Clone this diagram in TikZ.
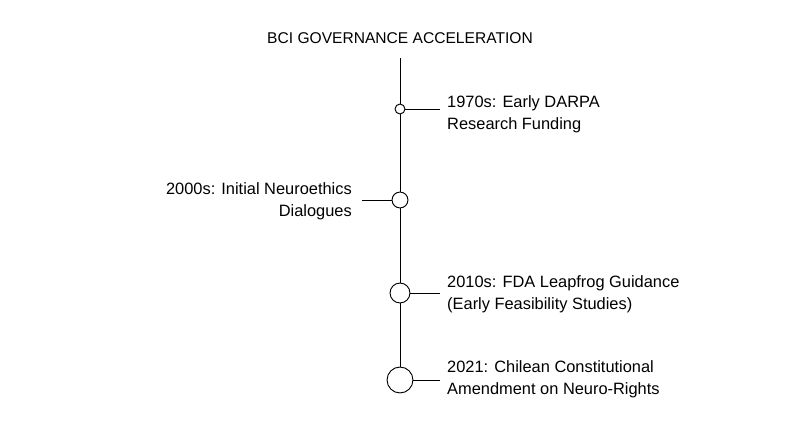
\documentclass[tikz,border=0pt]{standalone}
\usepackage{fontspec}
\setmainfont{Liberation Sans}
\usetikzlibrary{positioning}
\begin{document}
\begin{tikzpicture}[x=0.03cm,y=-0.03cm,
    event/.style={circle,draw,thick,fill=white,inner sep=0pt},
    label/.style={align=left,font=\fontsize{14}{19}\selectfont,inner sep=0pt}]
        \useasboundingbox (0,0) rectangle (800,447);
        % title
        \node[font=\fontsize{13.3}{16}\selectfont] (title) at (400,38) {BCI GOVERNANCE ACCELERATION};
        % timeline points
        \coordinate (start) at (400,58);
        \node[event,minimum size=10pt*0.85] (darpa)   at (400,109) {};
        \node[event,minimum size=16pt*0.85] (ethics)  at (400,200) {};
        \node[event,minimum size=20pt*0.85] (fda)     at (400,293) {};
        \node[event,minimum size=26pt*0.85] (chile)   at (400,380) {};
        % spine
        \draw[thick] (start) -- (darpa);
        \draw[thick] (darpa) -- (ethics);
        \draw[thick] (ethics) -- (fda);
        \draw[thick] (fda) -- (chile);
        % labels
        \node[label,anchor=west] (darpatext)  at (447,114) {1970s: Early DARPA\\Research Funding};
        \node[label,anchor=east,align=right] (ethicstext) at (352,201) {2000s: Initial Neuroethics\\Dialogues};
        \node[label,anchor=west] (fdatext)    at (447,294) {2010s: FDA Leapfrog Guidance\\(Early Feasibility Studies)};
        \node[label,anchor=west] (chiletext)  at (447,379) {2021: Chilean Constitutional\\Amendment on Neuro-Rights};
        % ticks
        \draw (darpa.east) -- ([xshift=-7*0.03cm]darpatext.west |- darpa);
        \draw (ethics.west) -- ([xshift=-30*0.03cm]ethics.west);
        \draw (fda.east) -- ([xshift=-7*0.03cm]fdatext.west |- fda);
        \draw (chile.east) -- ([xshift=-7*0.03cm]chiletext.west |- chile);
\end{tikzpicture}
\end{document}
